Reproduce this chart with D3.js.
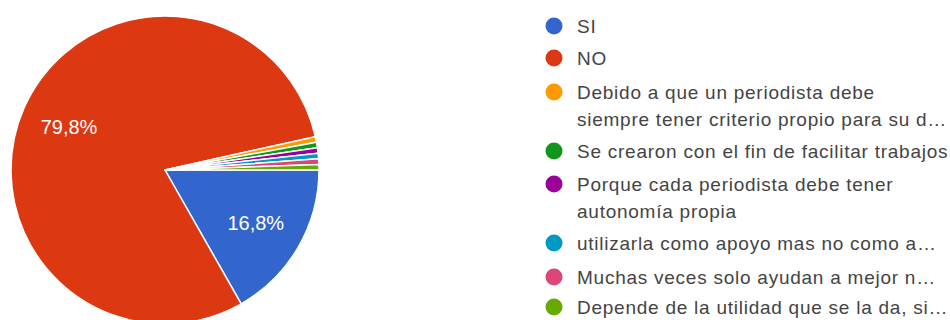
<!DOCTYPE html>
<html>
<head>
<meta charset="utf-8">
<script src="https://cdn.jsdelivr.net/npm/d3@7"></script>
<style>
  html, body { margin: 0; padding: 0; background: #fff; }
  svg { display: block; font-family: "Liberation Sans", Arial, sans-serif; }
</style>
</head>
<body>
<svg id="chart" width="950" height="320"></svg>
<script>
// Responses per answer
const categories = [
  "SI",
  "NO",
  "Debido a que un periodista debe siempre tener criterio propio para su d…",
  "Se crearon con el fin de facilitar trabajos",
  "Porque cada periodista debe tener autonomía propia",
  "utilizarla como apoyo mas no como a…",
  "Muchas veces solo ayudan a mejor n…",
  "Depende de la utilidad que se la da, si…"
];
const counts = [29, 138, 1, 1, 1, 1, 1, 1];
// Legend text, already wrapped into lines
const legendLines = [
  ["SI"],
  ["NO"],
  ["Debido a que un periodista debe", "siempre tener criterio propio para su d…"],
  ["Se crearon con el fin de facilitar trabajos"],
  ["Porque cada periodista debe tener", "autonomía propia"],
  ["utilizarla como apoyo mas no como a…"],
  ["Muchas veces solo ayudan a mejor n…"],
  ["Depende de la utilidad que se la da, si…"]
];
const colors = ["#3366cc", "#dc3912", "#ff9900", "#109618", "#990099", "#0099c6", "#dd4477", "#66aa00"];

const svg = d3.select("#chart");
const cx = 165, cy = 170, R = 154;

const total = d3.sum(counts);
const data = categories.map((c, i) => ({ name: c, value: counts[i], color: colors[i] }));

const pie = d3.pie()
  .value(d => d.value)
  .sort(null)
  .startAngle(Math.PI / 2)
  .endAngle(Math.PI / 2 + 2 * Math.PI);

const arcs = pie(data);
const arc = d3.arc().innerRadius(0).outerRadius(R);
const labelArc = d3.arc().innerRadius(105).outerRadius(105);

const g = svg.append("g").attr("transform", `translate(${cx},${cy})`);

g.selectAll("path.slice")
  .data(arcs)
  .join("path")
  .attr("class", "slice")
  .attr("d", arc)
  .attr("fill", d => d.data.color)
  .attr("stroke", "#fff")
  .attr("stroke-width", 1.5)
  .attr("stroke-linejoin", "round");

const fmt = v => (v * 100).toFixed(1).replace(".", ",") + "%";

g.selectAll("text.pct")
  .data(arcs.filter(d => d.data.value / total > 0.05))
  .join("text")
  .attr("class", "pct")
  .attr("transform", d => `translate(${labelArc.centroid(d)})`)
  .attr("text-anchor", "middle")
  .attr("dominant-baseline", "central")
  .attr("fill", "#fff")
  .attr("font-size", 20)
  .text(d => fmt(d.data.value / total));

// Legend
const legend = svg.append("g").attr("transform", "translate(554,0)");
const itemTops = [26, 58, 92, 151, 184, 243, 277, 307];
const lineGap = 27;

const items = legend.selectAll("g.item")
  .data(data)
  .join("g")
  .attr("class", "item")
  .attr("transform", (d, i) => `translate(0,${itemTops[i]})`);

items.append("circle")
  .attr("r", 8.5)
  .attr("fill", d => d.color);

items.each(function (d, i) {
  const t = d3.select(this).append("text")
    .attr("fill", "#444")
    .attr("font-size", 19)
    .attr("letter-spacing", 0.75)
    .attr("dominant-baseline", "central");
  legendLines[i].forEach((line, j) => {
    t.append("tspan").attr("x", 23).attr("y", j * lineGap).text(line);
  });
});
</script>
</body>
</html>
